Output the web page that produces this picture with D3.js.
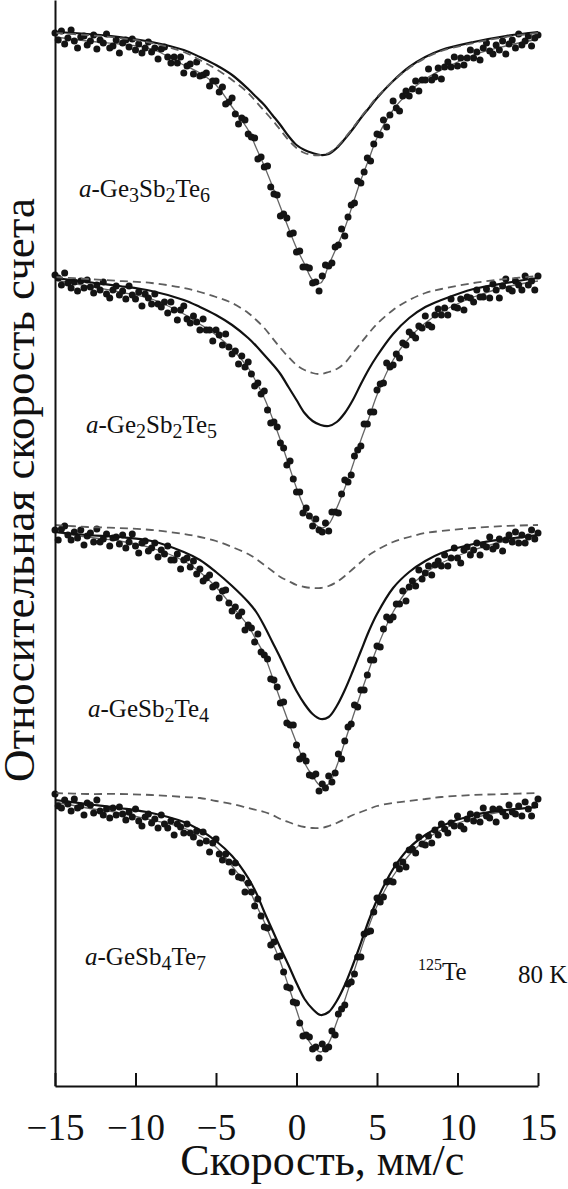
<!DOCTYPE html>
<html>
<head>
<meta charset="utf-8">
<script src="https://cdn.jsdelivr.net/npm/d3@7"></script>
<style>
body { margin: 0; background: #fff; }
svg { display: block; font-family: "Liberation Serif", "Times New Roman", serif; }
</style>
</head>
<body>
<script>
var width = 568;
var height = 1189;

var margin = {
    top: 0,
    left: 55,
    right: 30,
    bottom: 103
};

var innerWidth = width - margin.left - margin.right;
var innerHeight = height - margin.top - margin.bottom;

// sample names (digits become subscripts)
var formulas = ['Ge3Sb2Te6', 'Ge2Sb2Te5', 'GeSb2Te4', 'GeSb4Te7'];

// velocity channels, mm/s (step 0.2)
var velocity = d3.range(151).map(function (i) { return -15 + i * 0.2; });

// measured relative count rate, per mille of the off-resonance level
var counts1 = [997,990,999,986,992,1000,989,982,993,994,985,989,995,981,990,987,996,982,984,990,977,987,990,983,991,980,986,977,982,988,978,982,971,981,983,973,967,973,967,973,957,964,966,956,968,954,955,957,944,949,949,938,943,926,928,932,916,906,912,910,896,893,892,871,873,863,864,843,836,835,814,816,812,796,797,778,779,763,763,762,747,748,739,754,765,764,767,783,785,801,794,813,825,827,849,847,858,872,869,886,896,895,910,903,915,929,922,919,934,939,934,941,949,939,950,950,961,950,953,962,951,963,968,963,973,964,972,965,972,980,972,978,970,982,987,979,976,985,980,989,976,986,990,982,996,985,989,994,984,992,995];
var counts2 = [1000,997,990,1002,992,987,993,984,994,987,995,988,982,990,985,993,981,977,985,989,980,984,976,989,980,976,983,969,981,977,971,981,971,968,973,962,973,965,955,965,969,956,952,959,953,945,956,945,945,934,945,940,930,941,928,921,924,911,919,908,913,901,889,892,881,884,865,852,853,848,832,827,810,814,796,783,783,762,767,759,749,756,745,743,752,744,763,763,762,781,795,793,800,819,825,829,851,851,863,863,885,891,892,912,908,910,921,917,932,930,943,940,937,949,947,959,950,948,960,966,960,967,960,976,968,967,976,965,978,977,973,985,978,978,986,977,991,985,977,989,996,986,984,994,990,985,999,990,994,985,999];
var counts3 = [995,985,996,999,990,985,993,987,995,980,989,992,983,996,983,986,991,979,987,988,981,990,977,983,991,979,972,982,984,974,977,982,968,975,971,979,965,965,971,956,965,967,958,964,951,956,944,947,950,938,940,927,934,935,922,914,918,909,913,895,900,897,883,891,873,870,866,846,845,838,822,823,802,800,800,780,766,769,764,750,749,751,734,741,737,749,743,752,771,766,784,798,801,820,818,835,835,850,865,865,879,878,896,908,905,908,921,921,934,924,938,944,939,955,946,952,959,950,960,964,959,970,959,967,977,967,962,975,978,970,975,982,970,980,978,988,976,979,986,974,985,990,983,993,982,990,982,988,995,986,992];
var counts4 = [999,987,985,993,989,982,994,985,987,978,990,988,980,993,982,978,984,975,985,978,986,979,973,981,976,984,972,967,976,979,970,974,965,978,969,965,972,958,969,966,960,969,960,956,962,950,961,952,941,950,954,939,933,939,931,921,930,916,915,901,910,901,887,894,877,866,865,848,851,836,837,821,806,805,791,790,770,757,758,756,744,746,735,749,744,746,762,758,779,784,788,809,811,819,836,836,859,861,862,881,895,891,896,911,912,911,928,924,931,926,943,944,940,956,949,948,957,950,963,958,969,964,960,970,967,977,967,964,974,979,972,978,971,985,977,975,984,971,984,981,977,988,981,979,987,977,991,984,977,988,994];

// velocities at which the fitted curves were read
var fitVelocity = [-15,-13,-11,-9,-7,-6,-5,-4,-3,-2.5,-2,-1.5,-1,-0.5,0,0.5,1,1.5,2,2.5,3,3.5,4,4.5,5,6,7,8,9,11,13,15];

// total fit (thin gray), component 1 (solid), component 2 (dashed)
var fit1 = [993,989,986,981,965,957,945,923,900,882,864,844,823,802,782,766,750,747,765,783,802,826,850,871,892,920,938,951,960,975,984,991];
var solid1 = [998,996,993,988,980,973,965,955,941,933,925,915,905,894,885,880,877,875,876,882,891,901,912,922,932,949,963,973,980,988,994,998];
var dashed1 = [997,995,992,987,978,970,961,950,937,928,919,910,900,890,882,877,875,875,877,883,892,902,913,923,933,949,962,972,979,987,993,997];

var fit2 = [995,989,983,976,961,951,940,926,907,893,877,857,835,811,787,767,754,747,751,767,787,810,835,857,880,915,937,952,963,978,988,994];
var solid2 = [997,993,989,984,975,968,960,950,937,929,920,911,901,888,875,862,854,850,849,853,862,875,891,906,919,941,957,968,975,986,992,997];
var dashed2 = [998,996,994,992,987,983,978,972,962,955,947,937,927,918,910,905,902,901,903,906,912,922,932,942,951,965,975,982,986,992,996,999];

var fit3 = [993,988,984,977,964,953,938,919,899,885,870,848,825,803,782,762,749,739,741,759,783,808,832,855,877,913,937,952,962,975,984,990];
var solid3 = [993,990,988,984,973,965,953,939,923,913,899,883,867,850,834,821,811,806,808,819,835,854,874,894,911,937,953,964,972,981,986,990];
var dashed3 = [1000,998,997,995,991,988,984,978,971,966,960,954,948,944,940,938,937,937,939,943,949,956,963,970,975,983,988,992,994,997,999,1000];

var fit4 = [991,985,980,973,965,957,946,927,905,888,871,851,831,807,783,760,747,741,750,771,793,818,843,867,887,917,938,953,963,975,982,986];
var solid4 = [993,989,985,980,971,963,952,937,915,900,881,863,845,828,810,794,784,778,781,792,808,828,850,873,893,924,945,958,967,978,983,986];
var dashed4 = [1000,999,999,998,996,995,992,989,985,983,981,978,974,971,968,966,965,965,967,970,974,978,981,984,987,990,992,994,996,998,999,1000];

// vertical stacking shift of each spectrum
var stackShift = [0, -245, -495, -763];

var xTicks = [-15, -10, -5, 0, 5, 10, 15];

var spectra = [
    {formula: formulas[0], counts: counts1, fit: fit1, solid: solid1, dashed: dashed1, shift: stackShift[0]},
    {formula: formulas[1], counts: counts2, fit: fit2, solid: solid2, dashed: dashed2, shift: stackShift[1]},
    {formula: formulas[2], counts: counts3, fit: fit3, solid: solid3, dashed: dashed3, shift: stackShift[2]},
    {formula: formulas[3], counts: counts4, fit: fit4, solid: solid4, dashed: dashed4, shift: stackShift[3]}
];

// label placement (pixels, inside the plot group)
var labelPos = [[24, 197], [31, 433], [33, 717], [30, 965]];

var svg = d3.select('body').append('svg')
    .attr('width', width)
    .attr('height', height)
    .append('g')
    .attr('transform', 'translate(' + margin.left + ',' + margin.top + ')');

var x = d3.scaleLinear()
    .domain([-15, 15])
    .range([0, innerWidth]);

var y = d3.scaleLinear()
    .domain([-56, 1030])
    .range([innerHeight, 0]);

function curve(values, shift) {
    var line = d3.line()
        .x(function (d) { return x(d); })
        .y(function (d, i) { return y(values[i] + shift); })
        .curve(d3.curveCatmullRom.alpha(0.5));
    return line(fitVelocity);
}

var groups = svg.selectAll('g.spectrum')
    .data(spectra)
    .join('g')
    .classed('spectrum', true);

groups.append('path')
    .attr('d', function (d) { return curve(d.fit, d.shift); })
    .attr('fill', 'none')
    .attr('stroke', '#666')
    .attr('stroke-width', 1.3);

groups.each(function (s) {
    d3.select(this).selectAll('circle')
        .data(s.counts)
        .join('circle')
        .attr('cx', function (d, i) { return x(velocity[i]); })
        .attr('cy', function (d) { return y(d + s.shift); })
        .attr('r', 3.5)
        .style('fill', '#141414');
});

groups.append('path')
    .attr('d', function (d) { return curve(d.solid, d.shift); })
    .attr('fill', 'none')
    .attr('stroke', '#111')
    .attr('stroke-width', 2.2);

groups.append('path')
    .attr('d', function (d) { return curve(d.dashed, d.shift); })
    .attr('fill', 'none')
    .attr('stroke', '#5e5e5e')
    .attr('stroke-width', 1.8)
    .attr('stroke-dasharray', '8,5');

// sample labels, digits as subscripts
groups.each(function (s, k) {
    var t = d3.select(this).append('text')
        .attr('x', labelPos[k][0])
        .attr('y', labelPos[k][1])
        .style('font-size', '25px')
        .style('fill', '#111');
    t.append('tspan').style('font-style', 'italic').text('a');
    t.append('tspan').text('-');
    var level = 0;
    s.formula.split(/(\d)/).filter(function (p) { return p !== ''; }).forEach(function (p) {
        var sub = /\d/.test(p) ? 1 : 0;
        t.append('tspan')
            .attr('dy', (sub - level) * 5)
            .style('font-size', sub ? '20px' : null)
            .text(p);
        level = sub;
    });
});

var iso = svg.append('text')
    .attr('x', 363)
    .attr('y', 980)
    .style('font-size', '25px')
    .style('fill', '#111');
iso.append('tspan').attr('dy', -10).style('font-size', '16px').text('125');
iso.append('tspan').attr('dy', 10).text('Te');

svg.append('text')
    .attr('x', 463)
    .attr('y', 983)
    .style('font-size', '25px')
    .style('fill', '#111')
    .text('80 K');

// axes
var yaxis = d3.axisLeft(y).tickValues([]).tickSizeOuter(0);
svg.append('g')
    .classed('yaxis', true)
    .call(yaxis)
    .call(function (g) { g.select('.domain').attr('stroke', '#111').attr('stroke-width', 2); });

var xaxis = d3.axisBottom(x)
    .tickValues(xTicks)
    .tickSizeInner(-13)
    .tickSizeOuter(0)
    .tickPadding(0);

var xg = svg.append('g')
    .classed('xaxis', true)
    .attr('transform', 'translate(0,' + innerHeight + ')')
    .call(xaxis)
    .attr('font-family', null)
    .attr('font-size', null);

xg.select('.domain').attr('stroke', '#111').attr('stroke-width', 2);
xg.selectAll('.tick line').attr('stroke', '#111').attr('stroke-width', 2);
xg.selectAll('.tick text')
    .attr('y', 54)
    .attr('dy', null)
    .style('font-size', '37px')
    .style('fill', '#111');

svg.append('text')
    .attr('x', x(1.6))
    .attr('y', innerHeight + 89)
    .attr('text-anchor', 'middle')
    .style('font-size', '44px')
    .style('fill', '#111')
    .text('Скорость, мм/с');

svg.append('text')
    .attr('transform', 'translate(' + (34 - margin.left) + ',490) rotate(-90)')
    .attr('text-anchor', 'middle')
    .style('font-size', '45px')
    .style('fill', '#111')
    .text('Относительная скорость счета');
</script>
</body>
</html>
